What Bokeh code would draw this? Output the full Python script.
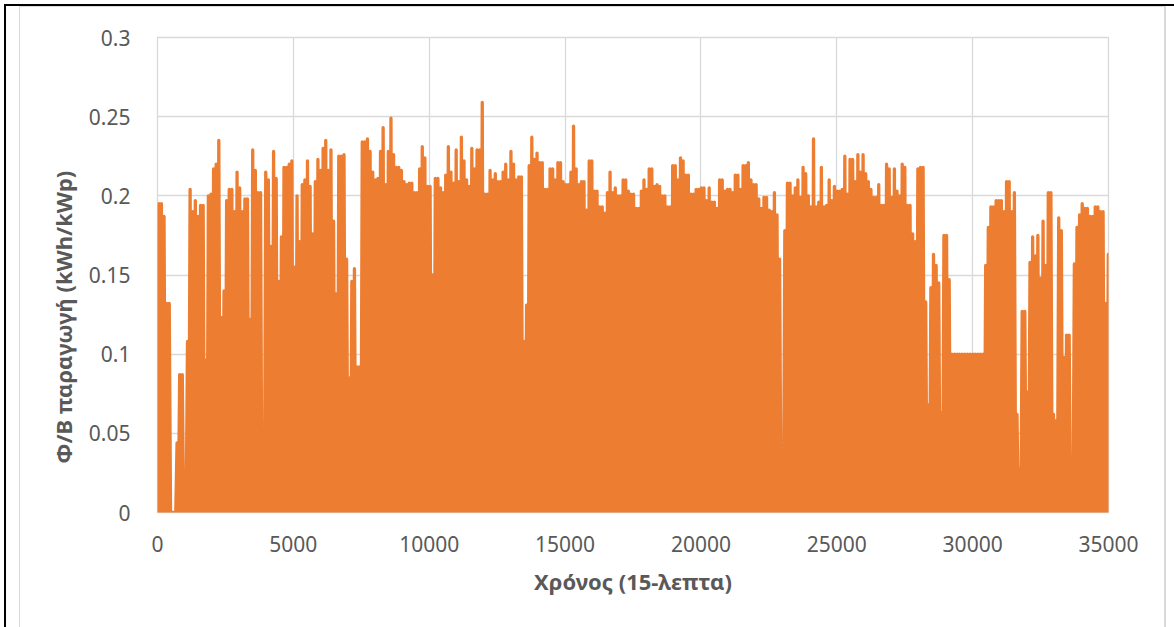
from bokeh.plotting import figure
from bokeh.models import FixedTicker, Title, Range1d
from bokeh.layouts import column
from bokeh.embed import file_html
from bokeh.resources import INLINE

# ---------------- data ----------------
steps_per_day = 96  # 15-minute steps in a day

# daily peak of PV production (kWh/kWp), one value per day
daily_peak = [
    0.195, 0.195, 0.187, 0.132, 0.132, 0.0, 0.0, 0.044, 0.087, 0.087,
    0.02, 0.108, 0.204, 0.19, 0.197, 0.187, 0.194, 0.194, 0.096, 0.2,
    0.201, 0.217, 0.22, 0.235, 0.123, 0.14, 0.197, 0.204, 0.204, 0.19,
    0.215, 0.205, 0.19, 0.198, 0.198, 0.122, 0.229, 0.216, 0.202, 0.202,
    0.039, 0.215, 0.21, 0.168, 0.228, 0.211, 0.146, 0.174, 0.218, 0.218,
    0.22, 0.222, 0.155, 0.2, 0.171, 0.207, 0.21, 0.222, 0.206, 0.176,
    0.209, 0.223, 0.216, 0.23, 0.235, 0.216, 0.229, 0.184, 0.138, 0.225,
    0.225, 0.226, 0.16, 0.085, 0.146, 0.154, 0.092, 0.092, 0.234, 0.234,
    0.236, 0.228, 0.215, 0.21, 0.211, 0.228, 0.243, 0.207, 0.228, 0.249,
    0.226, 0.218, 0.218, 0.216, 0.209, 0.207, 0.208, 0.208, 0.202, 0.202,
    0.217, 0.231, 0.224, 0.206, 0.206, 0.15, 0.211, 0.211, 0.205, 0.202,
    0.213, 0.231, 0.215, 0.208, 0.229, 0.209, 0.237, 0.222, 0.21, 0.206,
    0.23, 0.217, 0.229, 0.229, 0.259, 0.201, 0.201, 0.216, 0.21, 0.214,
    0.209, 0.209, 0.215, 0.22, 0.21, 0.228, 0.22, 0.21, 0.212, 0.212,
    0.108, 0.131, 0.219, 0.237, 0.223, 0.227, 0.221, 0.221, 0.204, 0.204,
    0.217, 0.217, 0.21, 0.221, 0.221, 0.209, 0.207, 0.207, 0.215, 0.244,
    0.217, 0.207, 0.209, 0.209, 0.191, 0.222, 0.222, 0.203, 0.203, 0.193,
    0.193, 0.189, 0.202, 0.215, 0.202, 0.205, 0.2, 0.2, 0.21, 0.21,
    0.203, 0.201, 0.201, 0.192, 0.192, 0.203, 0.21, 0.204, 0.217, 0.217,
    0.206, 0.207, 0.206, 0.2, 0.2, 0.193, 0.193, 0.219, 0.219, 0.21,
    0.224, 0.222, 0.213, 0.213, 0.201, 0.201, 0.204, 0.204, 0.205, 0.205,
    0.197, 0.205, 0.196, 0.196, 0.192, 0.21, 0.21, 0.203, 0.204, 0.204,
    0.202, 0.213, 0.213, 0.204, 0.219, 0.219, 0.221, 0.21, 0.207, 0.207,
    0.198, 0.192, 0.199, 0.199, 0.191, 0.19, 0.202, 0.188, 0.16, 0.0,
    0.178, 0.208, 0.208, 0.2, 0.205, 0.21, 0.199, 0.218, 0.214, 0.2,
    0.193, 0.236, 0.193, 0.196, 0.218, 0.193, 0.194, 0.21, 0.197, 0.206,
    0.203, 0.203, 0.204, 0.225, 0.201, 0.223, 0.223, 0.209, 0.226, 0.215,
    0.226, 0.214, 0.209, 0.204, 0.199, 0.199, 0.207, 0.194, 0.194, 0.22,
    0.217, 0.199, 0.217, 0.203, 0.2, 0.22, 0.218, 0.194, 0.194, 0.176,
    0.171, 0.217, 0.218, 0.218, 0.133, 0.068, 0.142, 0.163, 0.156, 0.145,
    0.063, 0.175, 0.175, 0.147, 0.1, 0.1, 0.1, 0.1, 0.1, 0.1,
    0.1, 0.1, 0.1, 0.1, 0.1, 0.1, 0.1, 0.156, 0.18, 0.193,
    0.193, 0.197, 0.197, 0.197, 0.19, 0.209, 0.209, 0.19, 0.202, 0.062,
    0.028, 0.127, 0.127, 0.076, 0.158, 0.174, 0.162, 0.175, 0.148, 0.184,
    0.156, 0.202, 0.202, 0.062, 0.058, 0.186, 0.178, 0.098, 0.112, 0.112,
    0.031, 0.157, 0.18, 0.188, 0.195, 0.192, 0.192, 0.187, 0.187, 0.193,
    0.193, 0.19, 0.19, 0.132, 0.163,
]

x_ticks = [0, 5000, 10000, 15000, 20000, 25000, 30000, 35000]
x_tick_labels = ["0", "5000", "10000", "15000", "20000", "25000", "30000", "35000"]
y_ticks = [0, 0.05, 0.1, 0.15, 0.2, 0.25, 0.3]
y_tick_labels = ["0", "0.05", "0.1", "0.15", "0.2", "0.25", "0.3"]
x_title = "Χρόνος (15-λεπτα)"
y_title = "Φ/Β παραγωγή (kWh/kWp)"

# ---------------- build series: night (0) and midday peak per day ----------------
xs, ys = [], []
for d, pk in enumerate(daily_peak):
    xs += [d * steps_per_day, d * steps_per_day + steps_per_day // 2]
    ys += [0.0, pk]
xs.append(len(daily_peak) * steps_per_day)
ys.append(0.0)

FONT = "Noto Sans"
GRAY_TXT = "#595959"
GRID = "#d9d9d9"
ORANGE = "#ED7D31"

p = figure(
    frame_width=948, frame_height=474,
    min_border_left=137, min_border_right=59, min_border_top=30, min_border_bottom=116,
    x_range=Range1d(0, 35000), y_range=Range1d(0, 0.3),
    output_backend="svg", toolbar_location=None,
    background_fill_color="white", border_fill_color="white",
)
p.outline_line_color = GRID
p.outline_line_width = 1.3

p.line(xs, ys, line_color=ORANGE, line_width=3.3, line_join="round", line_cap="round")

for ax in (p.xaxis[0], p.yaxis[0]):
    ax.axis_line_color = None
    ax.major_tick_line_color = None
    ax.minor_tick_line_color = None
    ax.major_label_text_font = FONT
    ax.major_label_text_font_size = "21px"
    ax.major_label_text_color = GRAY_TXT

p.xaxis.ticker = FixedTicker(ticks=x_ticks)
p.xaxis.major_label_overrides = {t: l for t, l in zip(x_ticks, x_tick_labels)}
p.yaxis.ticker = FixedTicker(ticks=y_ticks)
p.yaxis.major_label_overrides = {t: l for t, l in zip(y_ticks, y_tick_labels)}
p.xaxis.major_label_standoff = 17
p.yaxis.major_label_standoff = 21

p.xaxis.axis_label = x_title
p.xaxis.axis_label_text_font = FONT
p.xaxis.axis_label_text_font_size = "22px"
p.xaxis.axis_label_text_font_style = "bold"
p.xaxis.axis_label_text_color = GRAY_TXT
p.xaxis.axis_label_standoff = 11

yt = Title(text=y_title, align="left", offset=49, standoff=16,
           text_font=FONT, text_font_size="22px", text_font_style="bold",
           text_color=GRAY_TXT)
p.add_layout(yt, "left")

p.xgrid.grid_line_color = GRID
p.ygrid.grid_line_color = GRID
p.xgrid.grid_line_width = 1.3
p.ygrid.grid_line_width = 1.3

p.margin = (0, 9, 0, 13)
p.styles = {"border-left": "1px solid #d9d9d9", "border-top": "1px solid #d9d9d9",
            "border-right": "2px solid #d9d9d9"}

outer = column(p, margin=(4, 0, 0, 4),
               styles={"border-left": "2px solid #000000", "border-top": "2px solid #000000"})

open("out.html", "w").write(file_html(outer, INLINE))
